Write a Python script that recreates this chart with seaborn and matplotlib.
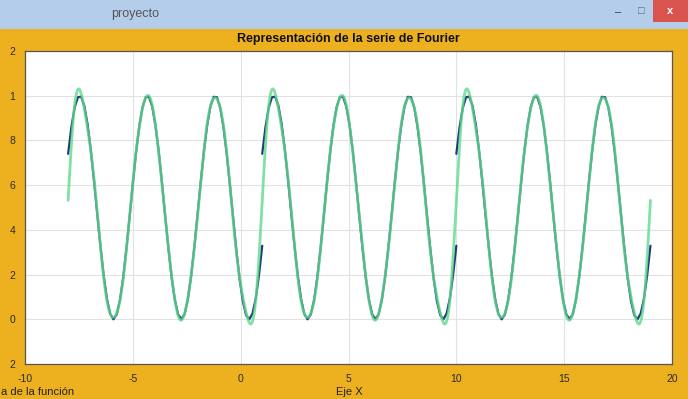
import numpy as np
import pandas as pd
import matplotlib
matplotlib.use("Agg")
import matplotlib.pyplot as plt
import seaborn as sns
from matplotlib.patches import Rectangle

period_t = [-8, -7.85, -7.7, -7.55, -7.4, -7.25, -7.1, -6.95, -6.8, -6.65, -6.5, -6.35, -6.2,
            -6.05, -5.9, -5.75, -5.6, -5.45, -5.3, -5.15, -5, -4.85, -4.7, -4.55, -4.4, -4.25,
            -4.1, -3.95, -3.8, -3.65, -3.5, -3.35, -3.2, -3.05, -2.9, -2.75, -2.6, -2.45, -2.3,
            -2.15, -2, -1.85, -1.7, -1.55, -1.4, -1.25, -1.1, -0.95, -0.8, -0.65, -0.5, -0.35,
            -0.2, -0.05, 0.1, 0.25, 0.4, 0.55, 0.7, 0.85, 1]
period_f = [0.740, 0.859, 0.946, 0.993, 0.996, 0.955, 0.873, 0.758, 0.620, 0.471, 0.325, 0.194,
            0.091, 0.024, 0.000, 0.021, 0.084, 0.184, 0.313, 0.458, 0.608, 0.747, 0.864, 0.949,
            0.994, 0.995, 0.951, 0.867, 0.751, 0.611, 0.462, 0.317, 0.187, 0.086, 0.022, 0.000,
            0.023, 0.089, 0.191, 0.321, 0.467, 0.616, 0.754, 0.870, 0.953, 0.995, 0.993, 0.947,
            0.861, 0.743, 0.603, 0.454, 0.309, 0.181, 0.081, 0.019, 0.000, 0.026, 0.093, 0.198,
            0.329]
segment_shifts = [0, 9, 18]
n_harmonics = 10

x_ticks = [-10, -5, 0, 5, 10, 15, 20]
y_ticks = [-0.2, 0, 0.2, 0.4, 0.6, 0.8, 1.0, 1.2]
y_tick_labels = ["2", "0", "2", "4", "6", "8", "1", "2"]

sns.set_style("white")
plt.rcParams['font.family'] = ['Liberation Sans', 'DejaVu Sans']

fig = plt.figure(figsize=(6.88, 3.99), dpi=100)
fig.patch.set_facecolor('#edb120')

# window title bar
fig.patches.append(Rectangle((0, 1 - 29/399), 1, 29/399, transform=fig.transFigure,
                             facecolor='#b4cdea', edgecolor='none', zorder=0))
fig.patches.append(Rectangle((653/688, 1 - 22/399), 35/688, 22/399, transform=fig.transFigure,
                             facecolor='#d9534f', edgecolor='none', zorder=1))
fig.text(670/688, 1 - 11/399, "x", color='white', fontsize=8, ha='center', va='center', weight='bold')
fig.text(618/688, 1 - 12/399, "–", color='#333333', fontsize=8, ha='center', va='center')
fig.text(641/688, 1 - 11/399, "□", color='#666666', fontsize=8, ha='center', va='center')
fig.text(135/688, 1 - 14/399, "proyecto", color='#555555', fontsize=9, ha='center', va='center')

ax = fig.add_axes([25/688, 1 - 364/399, 647/688, 313/399])
ax.set_facecolor('white')

t = np.array(period_t)
f = np.array(period_f)
blue = pd.DataFrame({
    't': np.concatenate([t + s for s in segment_shifts]),
    'f': np.tile(f, len(segment_shifts)),
    'seg': np.repeat(range(len(segment_shifts)), len(t)),
})

# Fourier series of the sampled period (trapezoid rule: jump endpoints averaged)
samples = f[:-1].copy()
samples[0] = (f[0] + f[-1]) / 2
N = len(samples)
c = np.fft.rfft(samples) / N
T = t[-1] - t[0]
xs = np.linspace(t[0], t[0] + len(segment_shifts) * T, 1500)
k = np.arange(1, n_harmonics + 1)
phase = np.exp(2j * np.pi * np.outer(xs - t[0], k) / T)
fs = np.real(c[0] + 2 * phase @ c[1:n_harmonics + 1])
green = pd.DataFrame({'t': xs, 'f': fs})

sns.lineplot(data=blue, x='t', y='f', units='seg', estimator=None, color='#1b3d78',
             linewidth=1.6, ax=ax)
sns.lineplot(data=green, x='t', y='f', color='#62d98c', linewidth=2.0, alpha=0.8, ax=ax)

ax.set_xlim(-10, 20)
ax.set_ylim(-0.2, 1.2)
ax.set_xticks(x_ticks)
ax.set_xticklabels([str(v) for v in x_ticks])
ax.set_yticks(y_ticks)
ax.set_yticklabels(y_tick_labels)
ax.grid(True, color='#e2e2e2', linewidth=0.8)
ax.tick_params(direction='in', length=4, width=0.8, color='#555555', labelsize=7.5,
               labelcolor='#2a2a2a', pad=7)
for sp in ax.spines.values():
    sp.set_color('#555555')
    sp.set_linewidth(0.9)
ax.set_xlabel("")
ax.set_ylabel("")

fig.text(348/688, 1 - 39/399, "Representación de la serie de Fourier", fontsize=9,
         weight='bold', ha='center', va='center', color='#111111')
fig.text(349/688, 2/399, "Eje X", fontsize=8, ha='center', va='bottom', color='#222222')
fig.text(1/688, 2/399, "a de la función", fontsize=8, ha='left', va='bottom', color='#222222')

fig.savefig("out.png", dpi=100, facecolor=fig.get_facecolor())
